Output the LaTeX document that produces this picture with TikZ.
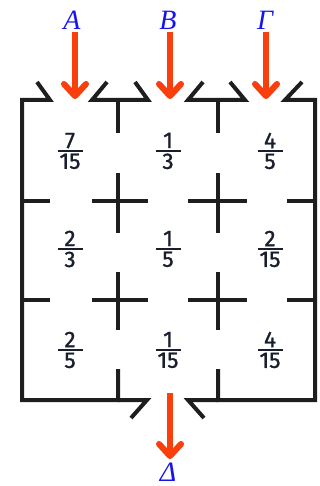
\documentclass[tikz,border=0pt]{standalone}
\usepackage{amsmath}
\usepackage{fontspec}
\setmainfont{Liberation Serif}
\newfontfamily\fracfont[FakeBold=1.2]{Fira Sans}
\usetikzlibrary{arrows.meta}
\definecolor{wallc}{RGB}{30,30,30}
\definecolor{arrc}{RGB}{250,62,12}
\definecolor{labc}{RGB}{20,20,235}
\definecolor{numc}{RGB}{25,30,45}
\newcommand\fr[2]{$\genfrac{}{}{1.8pt}{1}{\hbox to 25pt{\hss\fracfont #1\hss}}{\hbox{\fracfont #2}}$}
\tikzset{
  wall/.style={line width=4pt, draw=wallc, line cap=butt, line join=miter},
  flow/.style={line width=6pt, draw=arrc, -{Straight Barb[length=12pt,width=22pt,line cap=round,line join=round]}},
  flowshadow/.style={line width=6pt, draw=black, opacity=0.18, -{Straight Barb[length=12pt,width=22pt,line cap=round,line join=round]}},
  lab/.style={text=labc, font=\fontsize{28}{30}\selectfont\itshape, inner sep=0pt},
  cell/.style={text=numc, font=\fontsize{22.5}{26}\selectfont, inner sep=0pt}
}
\begin{document}
\begin{tikzpicture}[x=1pt,y=-1pt]
\useasboundingbox (0,0) rectangle (320,486);
% labels
\node[lab] (A) at (72,20) {A};
\node[lab] (B) at (168,20) {B};
\node[lab] (G) at (265,20) {Γ};
\node[lab] (D) at (168,472) {Δ};
% arrow coordinates
\coordinate (a0) at (75,32);  \coordinate (a1) at (75,99);
\coordinate (b0) at (170,32); \coordinate (b1) at (170,99);
\coordinate (g0) at (266,32); \coordinate (g1) at (266,99);
\coordinate (d0) at (170,393); \coordinate (d1) at (170,459);
% walls top
\draw[wall] (37,82) -- (50,100) -- (22,100) -- (22,400) -- (118,400) -- (118,369);
\draw[wall] (107,82) -- (92,100) -- (148,100) -- (135,82);
\draw[wall] (118,100) -- (118,133);
\draw[wall] (203,82) -- (188,100) -- (245,100) -- (230,82);
\draw[wall] (218,100) -- (218,133);
\draw[wall] (302,82) -- (285,100) -- (315,100) -- (315,400) -- (218,400) -- (218,369);
% bottom flaps
\draw[wall] (118,400) -- (147,400) -- (131,418);
\draw[wall] (218,400) -- (188,400) -- (204,418);
% cross row 1
\draw[wall] (22,201) -- (50,201);
\draw[wall] (92,201) -- (148,201);
\draw[wall] (118,173) -- (118,233);
\draw[wall] (188,201) -- (247,201);
\draw[wall] (218,173) -- (218,233);
\draw[wall] (287,201) -- (315,201);
% cross row 2
\draw[wall] (22,300) -- (50,300);
\draw[wall] (92,300) -- (148,300);
\draw[wall] (118,272) -- (118,330);
\draw[wall] (188,300) -- (247,300);
\draw[wall] (218,272) -- (218,330);
\draw[wall] (287,300) -- (315,300);
% fractions
\node[cell] (c11) at (70,151) {\fr{7}{15}};
\node[cell] (c12) at (168,151) {\fr{1}{3}};
\node[cell] (c13) at (270,151) {\fr{4}{5}};
\node[cell] (c21) at (70,249) {\fr{2}{3}};
\node[cell] (c22) at (168,249) {\fr{1}{5}};
\node[cell] (c23) at (270,249) {\fr{2}{15}};
\node[cell] (c31) at (70,350) {\fr{2}{5}};
\node[cell] (c32) at (168,350) {\fr{1}{15}};
\node[cell] (c33) at (270,350) {\fr{4}{15}};
% arrows
\begin{scope}[shift={(1.5,2)}]
\draw[flowshadow] (a0) -- (a1);
\draw[flowshadow] (b0) -- (b1);
\draw[flowshadow] (g0) -- (g1);
\draw[flowshadow] (d0) -- (d1);
\end{scope}
\draw[flow] (a0) -- (a1);
\draw[flow] (b0) -- (b1);
\draw[flow] (g0) -- (g1);
\draw[flow] (d0) -- (d1);
\end{tikzpicture}
\end{document}
